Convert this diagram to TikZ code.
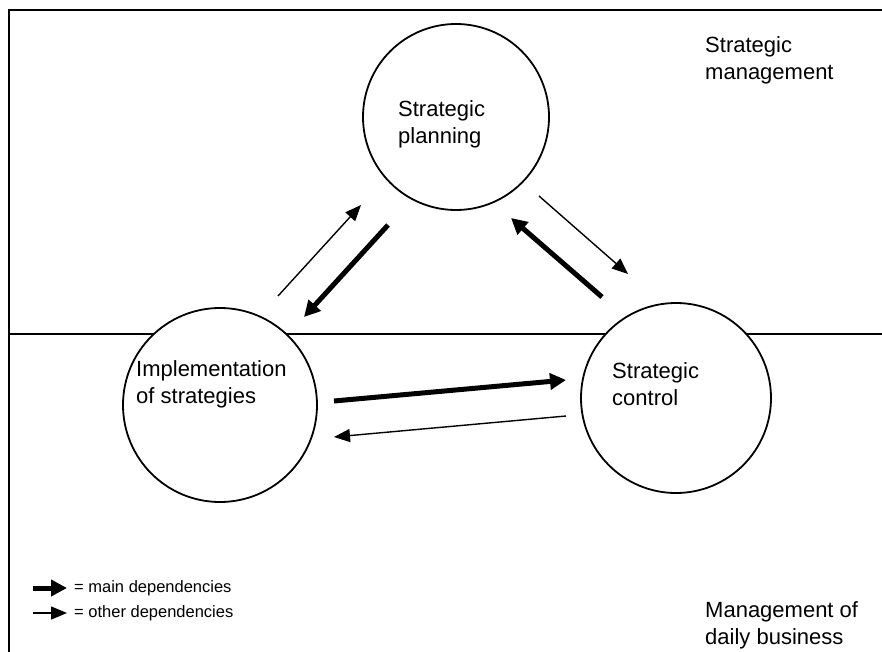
\documentclass[tikz,border=0pt]{standalone}
\usepackage{fontspec}
\setmainfont{Liberation Sans}
\usetikzlibrary{arrows.meta}
\begin{document}
\begin{tikzpicture}[x=1pt,y=-1pt,
  frame/.style={line width=2pt},
  circ/.style={circle,draw,line width=1.8pt,fill=white,minimum size=#1,inner sep=0pt},
  lbl/.style={anchor=west,align=left,inner sep=0pt,font=\fontsize{22}{27}\selectfont},
  legtxt/.style={anchor=west,inner sep=0pt,font=\fontsize{16.5}{19}\selectfont},
  mainarr/.style={line width=5pt,-{Triangle[length=16pt,width=16pt]}},
  otherarr/.style={line width=1.4pt,-{Triangle[length=16pt,width=13pt]}}]
\useasboundingbox (0,0) rectangle (882,652);
\coordinate (tl) at (9,10);
\coordinate (tr) at (882,10);
\coordinate (bl) at (9,652);
\coordinate (ml) at (9,334);
\coordinate (mr) at (882,334);
\draw[frame] (tr) -- (tl) -- (bl);
\draw[frame] (ml) -- (mr);
% circles
\node[circ=186pt] (sp) at (456,117) {};
\node[circ=194pt] (impl) at (220,405) {};
\node[circ=190pt] (sc) at (676,398) {};
% circle texts
\node[lbl] (sptxt) at (398,124) {Strategic\\planning};
\node[lbl] (impltxt) at (136,384) {Implementation\\of strategies};
\node[lbl] (sctxt) at (612,384) {Strategic\\control};
% level texts
\node[lbl] (smtxt) at (705,60) {Strategic\\management};
\node[lbl] (mdtxt) at (705,625) {Management of\\daily business};
% arrow end points
\coordinate (a1s) at (278,296); \coordinate (a1e) at (361,205);
\coordinate (a2s) at (388,225); \coordinate (a2e) at (304,317);
\coordinate (a3s) at (539,196); \coordinate (a3e) at (628,274);
\coordinate (a4s) at (602,297); \coordinate (a4e) at (511,218);
\coordinate (a5s) at (334,401); \coordinate (a5e) at (566,380);
\coordinate (a6s) at (566,416); \coordinate (a6e) at (334,437);
\draw[otherarr] (a1s) -- (a1e);
\draw[mainarr] (a2s) -- (a2e);
\draw[otherarr] (a3s) -- (a3e);
\draw[mainarr] (a4s) -- (a4e);
\draw[mainarr] (a5s) -- (a5e);
\draw[otherarr] (a6s) -- (a6e);
% legend
\coordinate (l1s) at (33,588); \coordinate (l1e) at (67,588);
\coordinate (l2s) at (33,613); \coordinate (l2e) at (67,613);
\draw[mainarr] (l1s) -- (l1e);
\draw[otherarr] (l2s) -- (l2e);
\node[legtxt] (leg1) at (74,588) {= main dependencies};
\node[legtxt] (leg2) at (74,613) {= other dependencies};
\end{tikzpicture}
\end{document}
